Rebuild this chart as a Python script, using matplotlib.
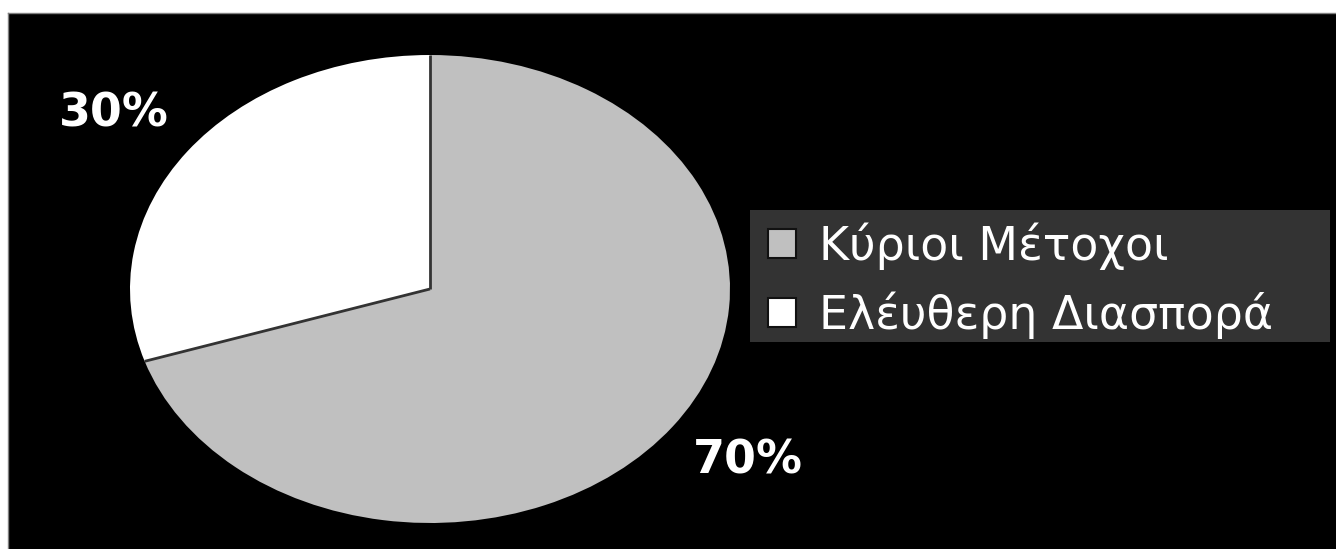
import numpy as np
import matplotlib.pyplot as plt
from matplotlib.patches import Patch, Rectangle

# Shareholder structure
categories = ["Κύριοι Μέτοχοι", "Ελέυθερη Διασπορά"]
shares = [70, 30]
colors = ["#c0c0c0", "#ffffff"]

W, H = 1336, 549
fig = plt.figure(figsize=(W / 100, H / 100), dpi=100)
fig.patch.set_facecolor("white")


def box(x0, y0, x1, y1):
    """Pixel box (origin top-left) -> figure-fraction rect."""
    return [x0 / W, 1 - y1 / H, (x1 - x0) / W, (y1 - y0) / H]


# black chart area
bg = fig.add_axes(box(8, 13, W, H))
bg.set_facecolor("black")
bg.set_xticks([])
bg.set_yticks([])
for name, sp in bg.spines.items():
    sp.set_visible(name in ("left", "top"))
    sp.set_color("#808080")
    sp.set_linewidth(1)

# pie (stretched horizontally into an ellipse)
start = 90
ax = fig.add_axes(box(130, 55, 730, 523))
wedges, _ = ax.pie(shares, colors=colors, startangle=start, counterclock=False,
                   radius=1, wedgeprops=dict(edgecolor="none", linewidth=0))
# separator lines between slices only (no outline on the rim)
bounds = start - 360 * np.cumsum([0] + shares[:-1]) / sum(shares)
for a in np.deg2rad(bounds):
    ax.plot([0, np.cos(a)], [0, np.sin(a)], color="#333333", lw=2,
            solid_capstyle="butt")
ax.set_aspect("auto")
ax.set_xlim(-1, 1)
ax.set_ylim(-1, 1)
ax.axis("off")

# percentage labels
label_pos = [(748, 461), (114, 114)]
for v, (px, py) in zip(shares, label_pos):
    fig.text(px / W, 1 - py / H, f"{v}%", ha="center", va="center",
             fontsize=33, fontweight="bold", color="white",
             family="DejaVu Sans")

# legend box
fig.patches.append(Rectangle((750 / W, 1 - 342 / H), 580 / W, 132 / H,
                             transform=fig.transFigure, facecolor="#333333",
                             edgecolor="none", zorder=2))

handles = [Patch(facecolor=c, edgecolor="#111111", linewidth=1.5) for c in colors]
leg = fig.legend(handles, categories, loc="upper left",
                 bbox_to_anchor=(768 / W, 1 - 222 / H),
                 prop=dict(family="DejaVu Sans", size=33),
                 labelcolor="white", frameon=False,
                 borderpad=0, handlelength=0.61, handleheight=0.61,
                 handletextpad=0.5, labelspacing=0.47, borderaxespad=0)
leg.set_zorder(3)

fig.savefig("out.png", dpi=100, facecolor=fig.get_facecolor())
